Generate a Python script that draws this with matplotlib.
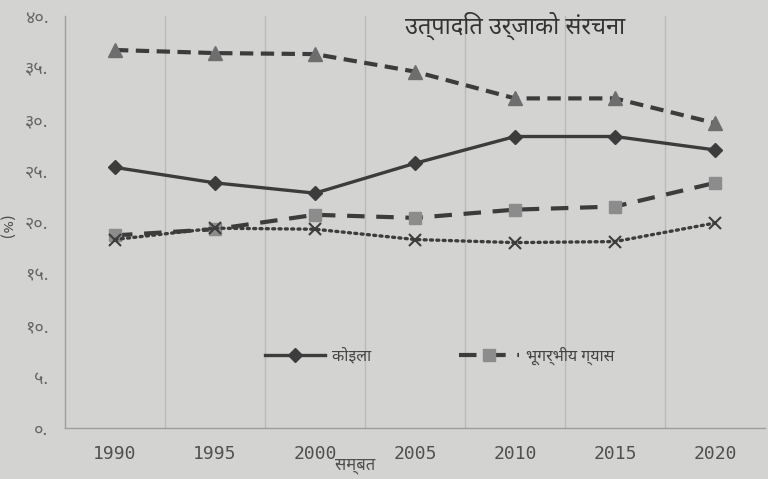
import matplotlib
matplotlib.use('Agg')
import matplotlib.pyplot as plt
from matplotlib.ticker import FixedLocator

years = [1990, 1995, 2000, 2005, 2010, 2015, 2020]
coal = [25.3, 23.8, 22.8, 25.7, 28.3, 28.3, 27.0]          # कोइला
gas = [18.7, 19.3, 20.7, 20.4, 21.2, 21.5, 23.8]           # भूगर्भीय ग्यास
series_tri = [36.7, 36.4, 36.3, 34.6, 32.0, 32.0, 29.6]
series_x = [18.3, 19.4, 19.3, 18.3, 18.0, 18.1, 19.9]
y_ticks = [0, 5, 10, 15, 20, 25, 30, 35, 40]
y_tick_labels = ['०.', '५.', '१०.', '१५.', '२०.', '२५.', '३०.', '३५.', '४०.']
title = 'उत्पादित उर्जाको संरचना'
x_label = 'सम्बत'
y_label = '(%)'
legend_labels = ['कोइला', 'भूगर्भीय ग्यास']

DEV = ['Noto Sans Devanagari', 'Anek Devanagari', 'DejaVu Sans']
BG = '#d3d3d1'
DARK = '#3c3c3c'
TXT = '#505050'

fig = plt.figure(figsize=(7.68, 4.79), dpi=100, facecolor=BG)
ax = fig.add_axes([65/768, 1-428/479, 700/768, 412/479], facecolor=BG)

ax.plot(years, series_tri, color=DARK, lw=3, dashes=(3.2, 1.8), marker='^',
        ms=10, mfc='#6e6e6e', mec='#6e6e6e', label='_nolegend_', zorder=3)
l1, = ax.plot(years, coal, color=DARK, lw=2.4, marker='D', ms=7.5,
              mfc=DARK, mec=DARK, zorder=3)
l2, = ax.plot(years, gas, color=DARK, lw=3, dashes=(4.2, 2.8), marker='s',
              ms=9, mfc='#8c8c8c', mec='#8c8c8c', zorder=3)
ax.plot(years, series_x, color=DARK, lw=2.4, linestyle=(0, (0.6, 1.3)),
        dash_capstyle='round', marker='x', ms=9, mew=1.5, mec=DARK,
        label='_nolegend_', zorder=4)

ax.set_xlim(1987.5, 2022.5)
ax.set_ylim(0, 40)
ax.set_xticks(years)
ax.set_xticklabels([str(y) for y in years], family='DejaVu Sans Mono',
                   fontsize=13, color=TXT)
ax.xaxis.set_minor_locator(FixedLocator([1992.5, 1997.5, 2002.5, 2007.5, 2012.5, 2017.5]))
ax.grid(axis='x', which='minor', color='#bababa', lw=1)
ax.set_yticks(y_ticks)
ax.set_yticklabels(y_tick_labels, family=DEV, fontsize=13, color='#666666')
ax.tick_params(axis='both', which='both', length=0)
ax.tick_params(axis='y', pad=12)
ax.tick_params(axis='x', pad=12)

for s in ['top', 'right']:
    ax.spines[s].set_visible(False)
for s in ['left', 'bottom']:
    ax.spines[s].set_color('#9e9e9e')
    ax.spines[s].set_linewidth(1)

ax.text(0.643, 0.975, title, transform=ax.transAxes, ha='center', va='center',
        family=DEV, fontsize=17, fontweight='bold', color='#333333')
fig.text(355/768, 1-466/479, x_label, ha='center', va='center', family=DEV,
         fontsize=12, color=TXT)
fig.text(10/768, 1-225/479, y_label, ha='center', va='center', rotation=90,
         family=DEV, fontsize=11, color=TXT)

leg = ax.legend([l1, l2], legend_labels, loc='center', bbox_to_anchor=(0.535, 0.175),
                ncol=2, frameon=False, handlelength=3.8, handletextpad=0.4,
                columnspacing=5.5, prop={'family': DEV, 'size': 11.5})
for t in leg.get_texts():
    t.set_color('#444444')

plt.savefig('out.png', dpi=100, facecolor=BG)
